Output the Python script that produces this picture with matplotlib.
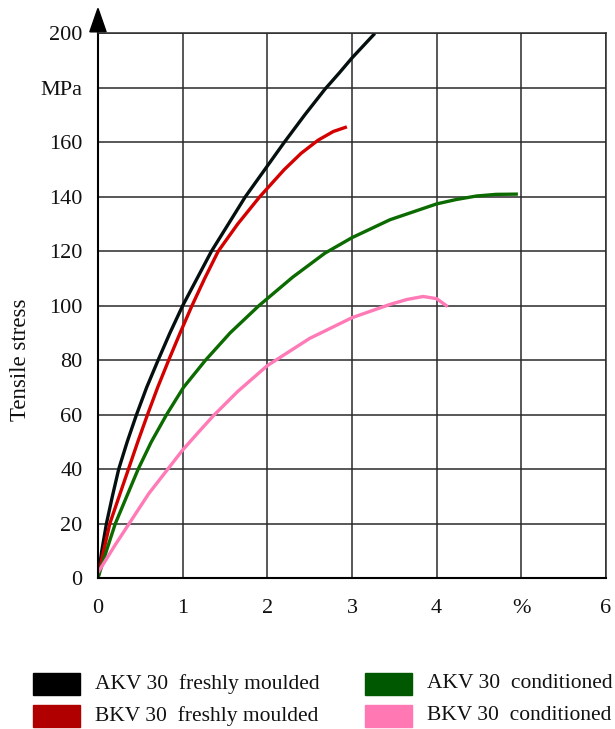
import matplotlib.pyplot as plt
from matplotlib.patches import Polygon, Rectangle

# strain (%) / tensile stress (MPa) readings per grade and state
akv_fresh_x = [0, 0.045, 0.1, 0.17, 0.245, 0.345, 0.455, 0.575, 0.71, 0.85, 1.0,
               1.17, 1.34, 1.54, 1.74, 1.97, 2.2, 2.44, 2.68, 2.85, 3.0, 3.27]
akv_fresh_y = [0, 10, 20, 30, 40, 50, 60, 70, 80, 90, 100,
               110, 120, 130, 140, 150, 160, 170, 179.5, 185.5, 191, 200]

bkv_fresh_x = [0, 0.06, 0.14, 0.25, 0.36, 0.47, 0.585, 0.705, 0.835, 0.97, 1.11,
               1.26, 1.42, 1.65, 1.91, 2.2, 2.4, 2.6, 2.78, 2.94]
bkv_fresh_y = [0, 9, 20, 30, 40, 50, 60, 70, 80, 90, 100,
               110, 120, 130, 140, 150, 156, 160.8, 164, 165.7]

akv_cond_x = [0, 0.1, 0.205, 0.34, 0.475, 0.63, 0.81, 1.01, 1.27, 1.56, 1.9,
              2.3, 2.68, 3.0, 3.45, 4.0, 4.23, 4.47, 4.7, 4.96]
akv_cond_y = [0, 10, 20, 30, 40, 50, 60, 70, 80, 90, 100,
              110.5, 119.3, 125, 131.6, 137.4, 139, 140.3, 140.9, 141]

bkv_cond_x = [0, 0.2, 0.4, 0.6, 0.8, 1.0, 1.2, 1.36, 1.65, 2.0, 2.5, 3.0,
              3.45, 3.65, 3.84, 4.0, 4.13]
bkv_cond_y = [2, 12, 21.5, 31, 39, 47, 54, 59.5, 68.5, 78, 88, 95.6,
              100.5, 102.3, 103.4, 102.6, 99.7]

series = [
    (akv_fresh_x, akv_fresh_y, "#050f10"),
    (bkv_fresh_x, bkv_fresh_y, "#d40000"),
    (akv_cond_x, akv_cond_y, "#0b6a00"),
    (bkv_cond_x, bkv_cond_y, "#ff7ab6"),
]

legend_labels = [
    ("AKV 30  freshly moulded", "#000000"),
    ("BKV 30  freshly moulded", "#b00000"),
    ("AKV 30  conditioned", "#005800"),
    ("BKV 30  conditioned", "#ff78b4"),
]

x_ticks = [0, 1, 2, 3, 4, 5, 6]
x_labels = ["0", "1", "2", "3", "4", "%", "6"]
y_ticks = [0, 20, 40, 60, 80, 100, 120, 140, 160, 180, 200]
y_labels = ["0", "20", "40", "60", "80", "100", "120", "140", "160", "MPa", "200"]

plt.rcParams["font.family"] = ["Liberation Serif", "DejaVu Serif"]

fig = plt.figure(figsize=(6.15, 7.29), dpi=100)
ax = fig.add_axes([0.1593, 0.2071, 0.8260, 0.7470])

grid_col = "#2a2a2a"
ax.set_xlim(0, 6)
ax.set_ylim(0, 200)
ax.set_xticks(x_ticks)
ax.set_xticklabels(x_labels)
ax.set_yticks(y_ticks)
ax.set_yticklabels(y_labels)
ax.tick_params(length=0, labelsize=16, colors="#111111")
ax.tick_params(axis="y", pad=11)
ax.tick_params(axis="x", pad=15)
ax.grid(True, color=grid_col, linewidth=1.1)
ax.set_axisbelow(True)
for side in ("top", "right"):
    ax.spines[side].set_color(grid_col)
    ax.spines[side].set_linewidth(1.1)
for side in ("left", "bottom"):
    ax.spines[side].set_color("#000000")
    ax.spines[side].set_linewidth(1.5)

for xs, ys, col in series:
    ax.plot(xs, ys, color=col, linewidth=2.4, solid_capstyle="butt",
            solid_joinstyle="round")

# arrow head on top of the stress axis
ax.plot([0, 0], [1.0, 1.01], color="black", linewidth=1.5,
        transform=ax.transAxes, clip_on=False)
ax.add_patch(Polygon([(-0.016, 1.003), (0.016, 1.003), (0.0, 1.046)],
                     closed=True, color="black", transform=ax.transAxes,
                     clip_on=False))

fig.text(20 / 615, 1 - 360 / 729, "Tensile stress", rotation=90,
         ha="center", va="center", fontsize=16.5, color="#111111")

# legend drawn as swatches + text, two columns
cols_x = [33, 365]
rows_y = [684, 716]
for i, (label, col) in enumerate(legend_labels):
    cx = cols_x[i // 2]
    cy = rows_y[i % 2]
    fig.add_artist(Rectangle((cx / 615, 1 - (cy + 11) / 729), 47 / 615, 22 / 729,
                             transform=fig.transFigure, color=col))
    fig.text((cx + 62) / 615, 1 - cy / 729, label, ha="left", va="center",
             fontsize=15.5, color="#111111")

fig.savefig("out.png", dpi=100)
